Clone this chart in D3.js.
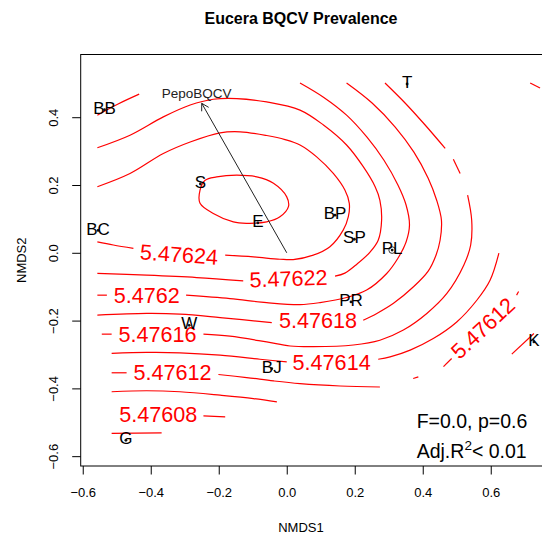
<!DOCTYPE html>
<html>
<head>
<meta charset="utf-8">
<script src="https://cdn.jsdelivr.net/npm/d3@7"></script>
<style>
  body { margin: 0; background: #fff; }
  svg { font-family: "Liberation Sans", Arial, sans-serif; }
</style>
</head>
<body>
<svg width="542" height="536"></svg>
<script>
// site scores (NMDS1, NMDS2)
const siteNames = ["BB", "T", "S", "E", "BC", "BP", "SP", "PL", "PR", "W", "BJ", "K", "G"];
const siteX = [-0.536, 0.354, -0.254, -0.085, -0.555, 0.142, 0.199, 0.310, 0.189, -0.287, -0.044, 0.727, -0.473];
const siteY = [0.422, 0.498, 0.203, 0.088, 0.066, 0.111, 0.040, 0.008, -0.145, -0.214, -0.342, -0.263, -0.553];
const ringedSites = ["PL"];

// fitted vector
const vectorName = "PepoBQCV";
const vectorEnd = [-0.25, 0.441];
const vectorLabelPos = [-0.265, 0.471];

// contour pieces for each level (gaps = masked area or label)
const lvl47626 = [
  [[-0.255, 0.185], [-0.240, 0.214], [-0.206, 0.224], [-0.147, 0.229], [-0.088, 0.224], [-0.039, 0.205], [0.000, 0.165],
   [0.005, 0.136], [-0.020, 0.106], [-0.059, 0.091], [-0.118, 0.087], [-0.157, 0.091], [-0.216, 0.116], [-0.255, 0.146]]
];
const lvl47624 = [
  [[-0.557, 0.195], [-0.461, 0.234], [-0.363, 0.293], [-0.284, 0.327], [-0.196, 0.354], [-0.137, 0.357], [-0.059, 0.346],
   [-0.005, 0.334], [0.039, 0.318], [0.088, 0.283], [0.137, 0.234], [0.171, 0.185], [0.184, 0.146], [0.181, 0.106],
   [0.166, 0.067], [0.127, 0.018], [0.078, -0.007], [0.019, -0.020], [-0.020, -0.019], [-0.098, -0.012], [-0.181, -0.007]],
  [[-0.451, 0.013], [-0.510, 0.023], [-0.557, 0.032]]
];
const lvl47622 = [
  [[-0.557, 0.310], [-0.461, 0.347], [-0.363, 0.401], [-0.284, 0.436], [-0.216, 0.453], [-0.147, 0.455], [-0.059, 0.445],
   [0.039, 0.421], [0.108, 0.377], [0.176, 0.318], [0.225, 0.254], [0.260, 0.195], [0.274, 0.155], [0.279, 0.096],
   [0.269, 0.037], [0.245, 0.002], [0.207, -0.033], [0.171, -0.060], [0.142, -0.069]],
  [[-0.128, -0.083], [-0.265, -0.073], [-0.412, -0.066], [-0.557, -0.061]]
];
const lvl4762 = [
  [[-0.557, 0.406], [-0.496, 0.439], [-0.434, 0.468]],
  [[0.039, 0.501], [0.108, 0.459], [0.176, 0.406], [0.236, 0.341], [0.286, 0.273], [0.327, 0.200], [0.351, 0.141],
   [0.361, 0.082], [0.351, 0.032], [0.327, -0.016], [0.294, -0.061], [0.235, -0.110], [0.176, -0.132], [0.098, -0.147],
   [0.039, -0.153], [-0.059, -0.147], [-0.167, -0.135], [-0.296, -0.125]],
  [[-0.529, -0.125], [-0.557, -0.125]]
];
const lvl47618 = [
  [[0.176, 0.501], [0.251, 0.442], [0.319, 0.371], [0.374, 0.297], [0.416, 0.220], [0.441, 0.155], [0.455, 0.096],
   [0.451, 0.037], [0.439, -0.007], [0.416, -0.054], [0.372, -0.101], [0.314, -0.149], [0.265, -0.179], [0.225, -0.199]],
  [[-0.044, -0.206], [-0.196, -0.191], [-0.314, -0.181], [-0.412, -0.179], [-0.557, -0.184]]
];
const lvl47616 = [
  [[0.289, 0.501], [0.348, 0.442], [0.407, 0.377], [0.466, 0.308]],
  [[0.490, 0.276], [0.510, 0.234]],
  [[0.532, 0.170], [0.544, 0.096], [0.541, 0.023], [0.521, -0.036], [0.471, -0.120], [0.412, -0.179], [0.343, -0.228],
   [0.274, -0.258], [0.196, -0.272], [0.078, -0.277], [0.010, -0.275], [-0.059, -0.263], [-0.167, -0.246], [-0.245, -0.240]],
  [[-0.515, -0.240], [-0.544, -0.240]]
];
const lvl47614 = [
  [[0.716, 0.501], [0.745, 0.486]],
  [[0.624, -0.001], [0.598, -0.081], [0.559, -0.140], [0.500, -0.204], [0.431, -0.253], [0.363, -0.287], [0.304, -0.307], [0.269, -0.314]],
  [[0.000, -0.322], [-0.079, -0.314], [-0.196, -0.302], [-0.314, -0.295], [-0.412, -0.294], [-0.515, -0.297]]
];
const lvl47612 = [
  [[0.676, -0.125], [0.682, -0.114]],
  [[0.485, -0.312], [0.461, -0.336]],
  [[0.387, -0.366], [0.372, -0.371]],
  [[0.274, -0.396], [0.157, -0.393], [0.039, -0.386], [-0.039, -0.378], [-0.118, -0.368], [-0.201, -0.359]],
  [[-0.471, -0.354], [-0.515, -0.354]]
];
const lvl4761 = [
  [[-0.515, -0.410], [-0.412, -0.407], [-0.314, -0.410], [-0.196, -0.420], [-0.098, -0.430], [-0.029, -0.440]],
  [[0.662, -0.299], [0.727, -0.238]]
];
const lvl47608 = [
  [[-0.245, -0.481], [-0.181, -0.484]]
];
const lvl47606 = [
  [[-0.515, -0.533], [-0.368, -0.531]]
];

// contour labels
const labelText = ["5.47624", "5.47622", "5.4762", "5.47618", "5.47616", "5.47614", "5.47612", "5.47612", "5.47608"];
const labelX = [-0.317, 0.005, -0.412, 0.092, -0.380, 0.132, -0.336, 0.577, -0.378];
const labelY = [-0.005, -0.076, -0.126, -0.201, -0.241, -0.324, -0.353, -0.222, -0.477];
const labelAngle = [4, -2, 0, 0, 0, 0, 0, -43, 0];

const xTicks = [-0.6, -0.4, -0.2, 0.0, 0.2, 0.4, 0.6];
const yTicks = [-0.6, -0.4, -0.2, 0.0, 0.2, 0.4];

const svg = d3.select("svg");

// equal aspect ordination plot, right edge runs off the picture
const x = d3.scaleLinear().domain([-0.606, 0.779]).range([80.7, 551.6]);
const y = d3.scaleLinear().domain([-0.629, 0.585]).range([466, 54.5]);

const fmt = d3.format(".1f");

// contours
const line = d3.line()
  .x((d) => x(d[0]))
  .y((d) => y(d[1]))
  .curve(d3.curveCatmullRom.alpha(0.5));
const loopLine = d3.line()
  .x((d) => x(d[0]))
  .y((d) => y(d[1]))
  .curve(d3.curveCatmullRomClosed.alpha(0.5));

const openPieces = [lvl47624, lvl47622, lvl4762, lvl47618, lvl47616, lvl47614, lvl47612, lvl4761, lvl47608, lvl47606].flat();

svg.append("g")
  .selectAll("path")
  .data(openPieces)
  .enter()
  .append("path")
  .attr("d", line)
  .attr("fill", "none")
  .attr("stroke", "#ff0000")
  .attr("stroke-width", 1.2);

svg.append("g")
  .selectAll("path")
  .data(lvl47626)
  .enter()
  .append("path")
  .attr("d", loopLine)
  .attr("fill", "none")
  .attr("stroke", "#ff0000")
  .attr("stroke-width", 1.2);

svg.append("g")
  .selectAll("text")
  .data(labelText)
  .enter()
  .append("text")
  .attr("transform", (d, i) => `translate(${x(labelX[i])},${y(labelY[i])}) rotate(${labelAngle[i]})`)
  .attr("text-anchor", "middle")
  .attr("dy", "0.35em")
  .attr("font-size", 21.6)
  .attr("fill", "#ff0000")
  .text((d) => d);

// fitted vector arrow
const x0 = x(0), y0 = y(0), x1 = x(vectorEnd[0]), y1 = y(vectorEnd[1]);
const ang = Math.atan2(y1 - y0, x1 - x0);
const head = 8;
svg.append("line")
  .attr("x1", x0).attr("y1", y0).attr("x2", x1).attr("y2", y1)
  .attr("stroke", "#222").attr("stroke-width", 1);
svg.append("path")
  .attr("d", `M${x1 - head * Math.cos(ang - Math.PI / 6)},${y1 - head * Math.sin(ang - Math.PI / 6)}L${x1},${y1}L${x1 - head * Math.cos(ang + Math.PI / 6)},${y1 - head * Math.sin(ang + Math.PI / 6)}`)
  .attr("fill", "none").attr("stroke", "#222").attr("stroke-width", 1);
svg.append("text")
  .attr("x", x(vectorLabelPos[0]))
  .attr("y", y(vectorLabelPos[1]))
  .attr("dy", "0.35em")
  .attr("text-anchor", "middle")
  .attr("font-size", 13.5)
  .attr("fill", "#222")
  .text(vectorName);

// sites
svg.append("g")
  .selectAll("circle")
  .data(siteNames)
  .enter()
  .append("circle")
  .attr("cx", (d, i) => x(siteX[i]))
  .attr("cy", (d, i) => y(siteY[i]))
  .attr("r", 1.4)
  .attr("fill", "#111");

svg.append("g")
  .selectAll("circle")
  .data(siteNames.filter((d) => ringedSites.includes(d)))
  .enter()
  .append("circle")
  .attr("cx", (d) => x(siteX[siteNames.indexOf(d)]))
  .attr("cy", (d) => y(siteY[siteNames.indexOf(d)]))
  .attr("r", 3.3)
  .attr("fill", "none")
  .attr("stroke", "#333")
  .attr("stroke-width", 1);

svg.append("g")
  .selectAll("text")
  .data(siteNames)
  .enter()
  .append("text")
  .attr("x", (d, i) => x(siteX[i]))
  .attr("y", (d, i) => y(siteY[i]))
  .attr("dy", "0.24em")
  .attr("text-anchor", "middle")
  .attr("font-size", 17)
  .attr("fill", "#000")
  .text((d) => d);

// box
svg.append("rect")
  .attr("x", x.range()[0])
  .attr("y", y.range()[1])
  .attr("width", x.range()[1] - x.range()[0])
  .attr("height", y.range()[0] - y.range()[1])
  .attr("fill", "none")
  .attr("stroke", "#000")
  .attr("stroke-width", 1);

// axes
const xAxis = svg.append("g")
  .attr("transform", `translate(0,${y.range()[0]})`)
  .call(d3.axisBottom(x).tickValues(xTicks).tickSize(8.5).tickPadding(13.5).tickFormat(fmt));
xAxis.select(".domain").remove();
xAxis.selectAll("text").attr("font-size", 13).attr("font-family", "Liberation Sans, Arial, sans-serif").attr("fill", "#000");

const yAxis = svg.append("g")
  .attr("transform", `translate(${x.range()[0]},0)`)
  .call(d3.axisLeft(y).tickValues(yTicks).tickSize(8.5).tickFormat(fmt));
yAxis.select(".domain").remove();
yAxis.selectAll("text")
  .attr("transform", "rotate(-90)")
  .attr("x", 0)
  .attr("y", -27.7)
  .attr("dy", "0.35em")
  .attr("text-anchor", "middle")
  .attr("font-size", 13)
  .attr("font-family", "Liberation Sans, Arial, sans-serif")
  .attr("fill", "#000");

// titles (centred where the original puts them)
const titleX = 301;
svg.append("text")
  .attr("x", titleX)
  .attr("y", 24)
  .attr("text-anchor", "middle")
  .attr("font-size", 16)
  .attr("font-weight", "bold")
  .text("Eucera BQCV Prevalence");

svg.append("text")
  .attr("x", titleX)
  .attr("y", 532)
  .attr("text-anchor", "middle")
  .attr("font-size", 13)
  .text("NMDS1");

svg.append("text")
  .attr("transform", `translate(21,${(y.range()[0] + y.range()[1]) / 2}) rotate(-90)`)
  .attr("dy", "0.35em")
  .attr("text-anchor", "middle")
  .attr("font-size", 13)
  .text("NMDS2");

// fit statistics
const stats = svg.append("g").attr("font-size", 19.5).attr("fill", "#000");
stats.append("text").attr("x", 416.7).attr("y", 428.3).text("F=0.0, p=0.6");
const r2 = stats.append("text").attr("x", 416.7).attr("y", 457.8);
r2.append("tspan").text("Adj.R");
r2.append("tspan").attr("font-size", 13.5).attr("dy", -8).text("2");
r2.append("tspan").attr("dy", 8).text("< 0.01");
</script>
</body>
</html>
